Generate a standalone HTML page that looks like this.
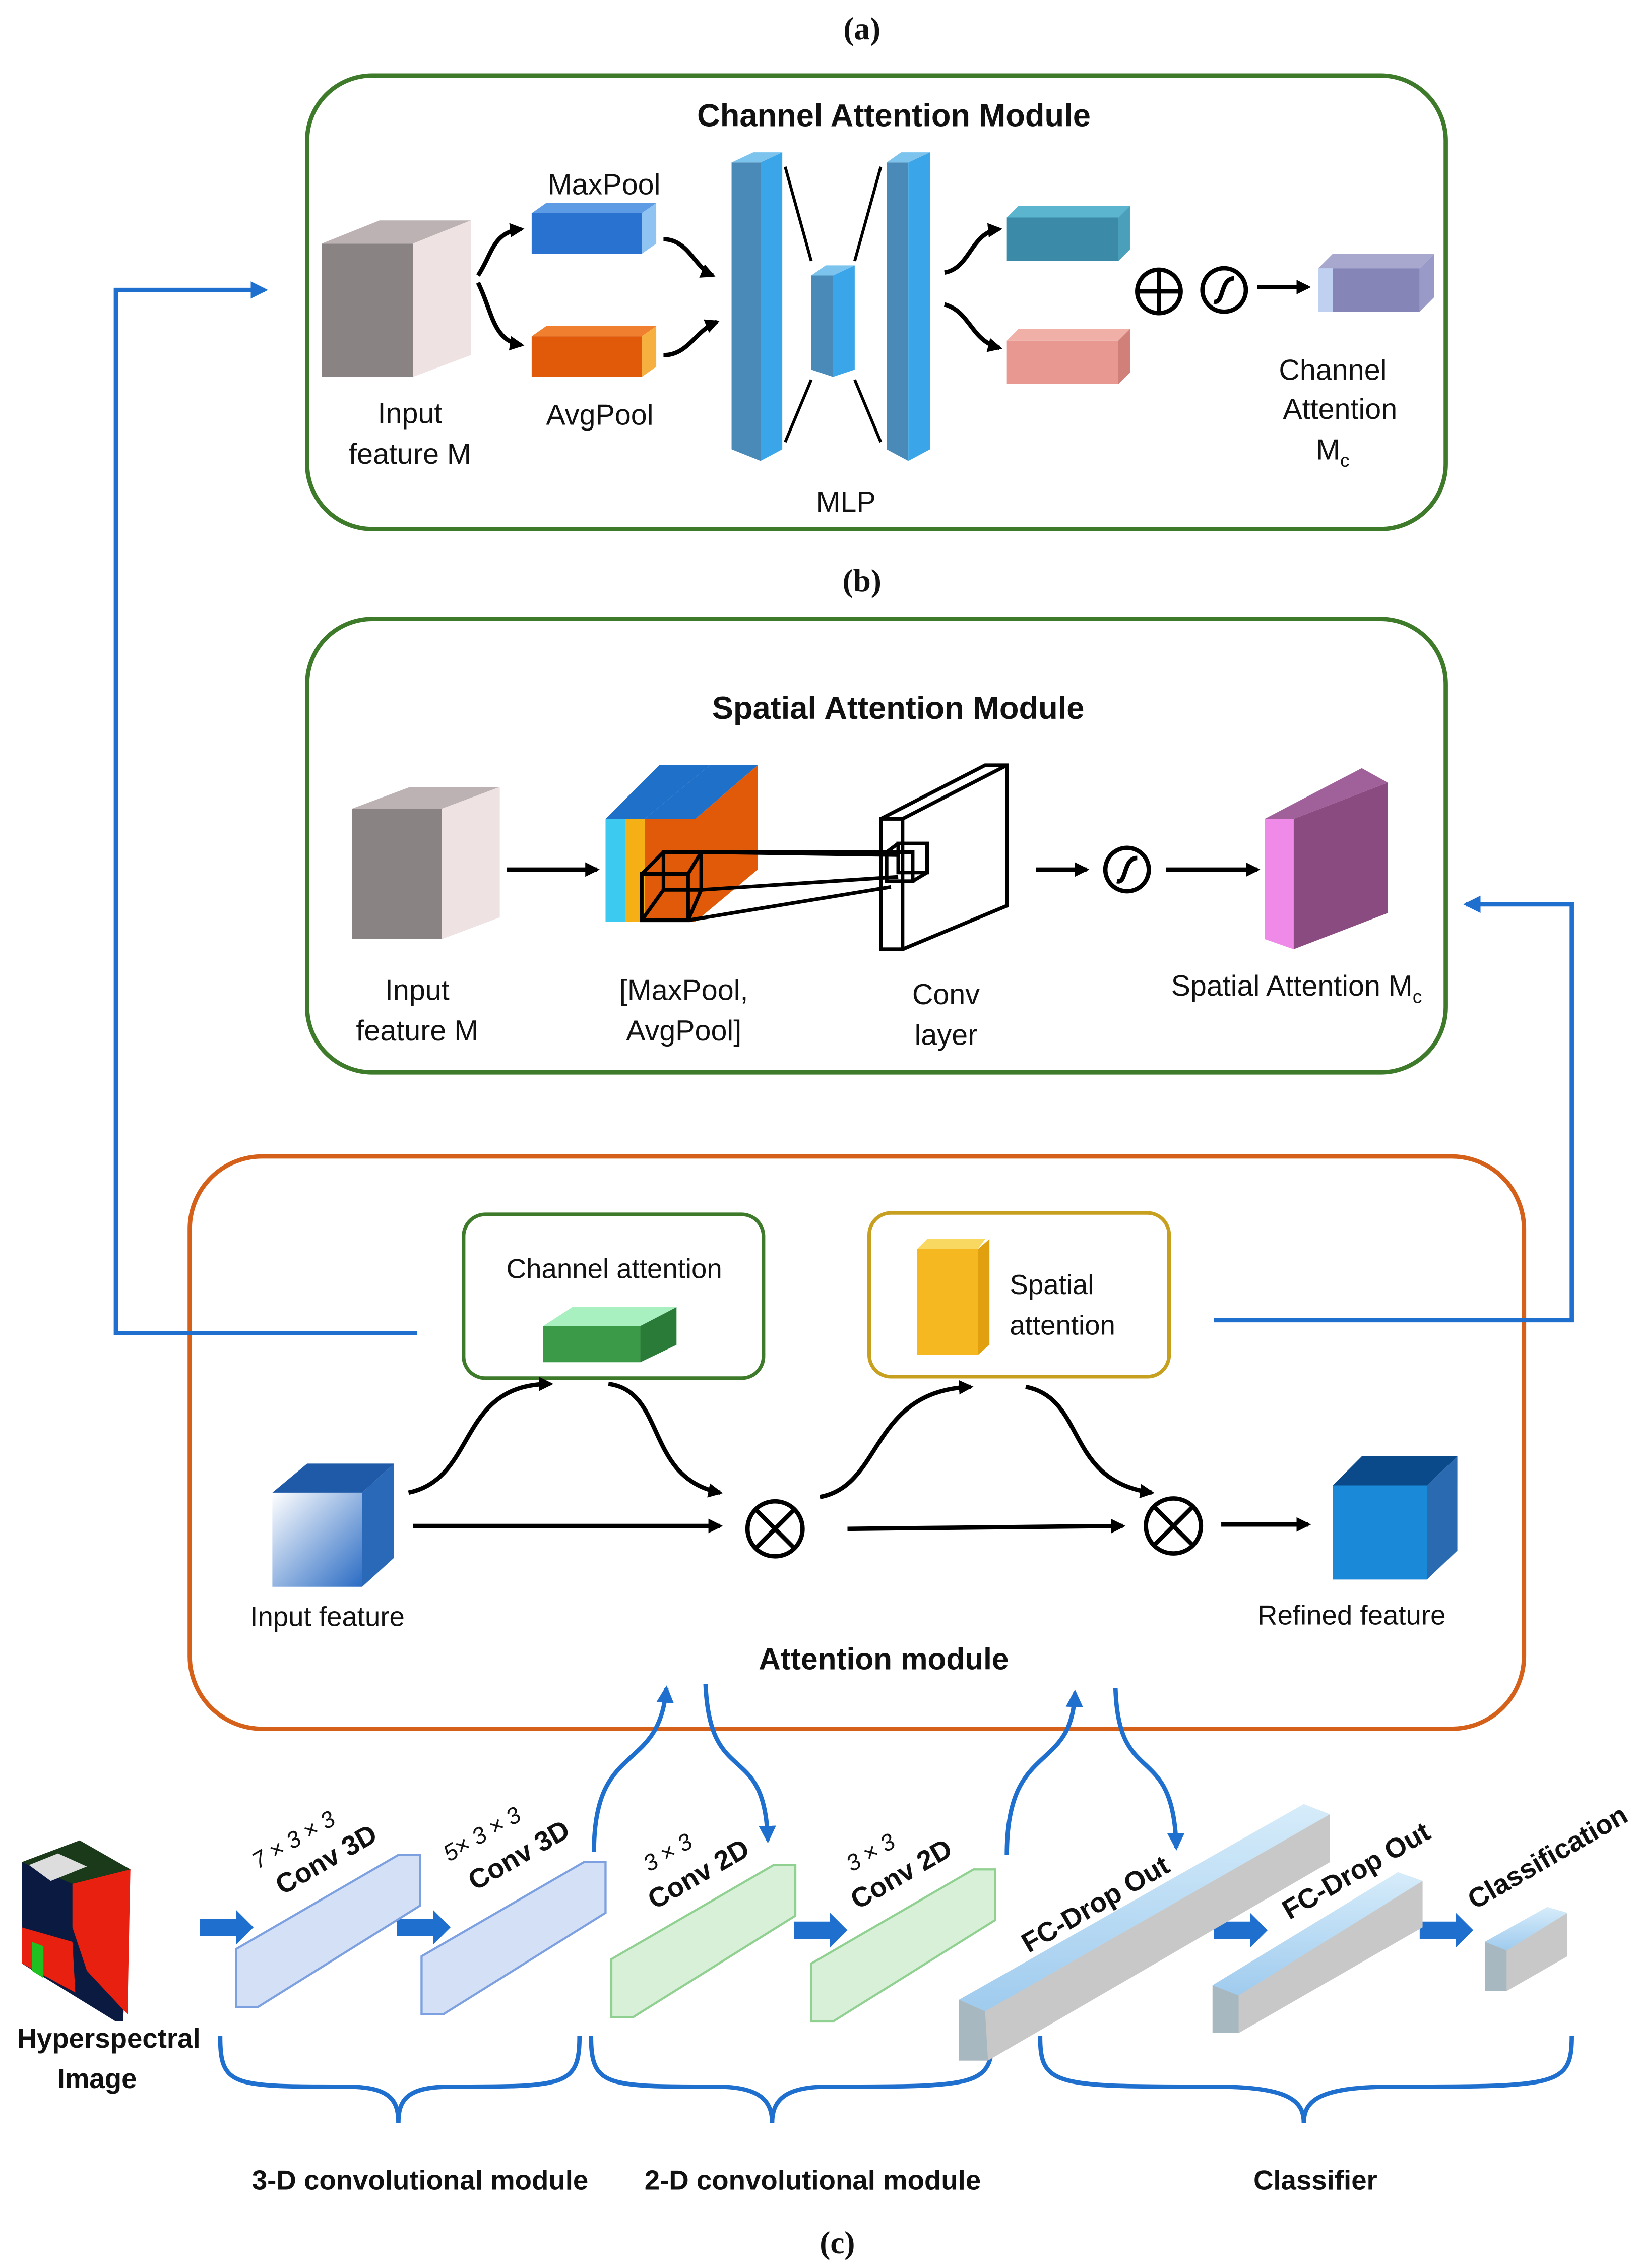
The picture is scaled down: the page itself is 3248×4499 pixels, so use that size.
<!DOCTYPE html>
<html><head><meta charset="utf-8"><style>
html,body{margin:0;padding:0;background:#fff}
svg{display:block}
text{font-family:"Liberation Sans","DejaVu Sans",sans-serif;fill:#111}
.b{font-weight:bold}
.s{font-family:"Liberation Serif",serif;font-weight:bold}
</style></head><body>
<svg width="3248" height="4499" viewBox="0 0 1130 1565" xmlns="http://www.w3.org/2000/svg">
<defs>
<marker id="ak" markerWidth="10" markerHeight="10" refX="8" refY="5" orient="auto" markerUnits="userSpaceOnUse"><path d="M0,0 L10,5 L0,10 Z" fill="#000"/></marker>
<marker id="ab" markerWidth="12" markerHeight="12" refX="10" refY="6" orient="auto" markerUnits="userSpaceOnUse"><path d="M0,0 L12,6 L0,12 Z" fill="#1f6fcf"/></marker>
<linearGradient id="gc" x1="0" y1="0" x2="1" y2="1"><stop offset="0" stop-color="#fff"/><stop offset="1" stop-color="#2b6cc4"/></linearGradient>
<linearGradient id="gbar" x1="0" y1="0" x2="0" y2="1"><stop offset="0" stop-color="#d6ecfa"/><stop offset="1" stop-color="#9fcbee"/></linearGradient>
</defs>

<text x="595" y="27" text-anchor="middle" class="s" font-size="22">(a)</text>
<rect x="212" y="52" width="786" height="313" rx="45" fill="none" stroke="#3d7a2a" stroke-width="3"/>
<text x="617" y="87" text-anchor="middle" class="b" font-size="22">Channel Attention Module</text>
<polygon points="222,168 285,168 285,260 222,260" fill="#8a8384"/>
<polygon points="222,168 262,152 325,152 285,168" fill="#bcb2b3"/>
<polygon points="285,168 325,152 325,245 285,260" fill="#efe2e2"/>
<text x="283" y="292" text-anchor="middle" font-size="20">Input</text>
<text x="283" y="320" text-anchor="middle" font-size="20">feature M</text>
<text x="417" y="134" text-anchor="middle" font-size="20">MaxPool</text>
<polygon points="367,147 443,147 443,175 367,175" fill="#2a72d0"/>
<polygon points="367,147 377,140 453,140 443,147" fill="#5d9be4"/>
<polygon points="443,147 453,140 453,168 443,175" fill="#8fc4f2"/>
<polygon points="367,232 443,232 443,260 367,260" fill="#e05a0a"/>
<polygon points="367,232 377,225 453,225 443,232" fill="#f08030"/>
<polygon points="443,232 453,225 453,253 443,260" fill="#f6b040"/>
<text x="414" y="293" text-anchor="middle" font-size="20">AvgPool</text>
<path d="M330,190 C340,175 340,160 360,158" fill="none" stroke="#000" stroke-width="3" marker-end="url(#ak)"/>
<path d="M330,195 C340,215 340,235 360,238" fill="none" stroke="#000" stroke-width="3" marker-end="url(#ak)"/>
<path d="M458,165 C475,165 480,185 492,190" fill="none" stroke="#000" stroke-width="3" marker-end="url(#ak)"/>
<path d="M458,245 C475,245 480,228 495,222" fill="none" stroke="#000" stroke-width="3" marker-end="url(#ak)"/>
<polygon points="505,112 525,112 525,318 505,310" fill="#4a8ab8"/>
<polygon points="525,112 540,105 540,310 525,318" fill="#3aa5e8"/>
<polygon points="505,112 520,105 540,105 525,112" fill="#7cc4ee"/>
<polygon points="560,190 575,190 575,260 560,255" fill="#4a8ab8"/>
<polygon points="575,190 590,183 590,255 575,260" fill="#3aa5e8"/>
<polygon points="560,190 570,183 590,183 575,190" fill="#7cc4ee"/>
<polygon points="612,112 627,112 627,318 612,310" fill="#4a8ab8"/>
<polygon points="627,112 642,105 642,310 627,318" fill="#3aa5e8"/>
<polygon points="612,112 622,105 642,105 627,112" fill="#7cc4ee"/>
<line x1="542" y1="115" x2="560" y2="180" stroke="#000" stroke-width="2"/>
<line x1="542" y1="305" x2="560" y2="262" stroke="#000" stroke-width="2"/>
<line x1="608" y1="115" x2="590" y2="180" stroke="#000" stroke-width="2"/>
<line x1="608" y1="305" x2="590" y2="262" stroke="#000" stroke-width="2"/>
<text x="584" y="353" text-anchor="middle" font-size="20">MLP</text>
<path d="M652,188 C670,185 670,160 690,158" fill="none" stroke="#000" stroke-width="3" marker-end="url(#ak)"/>
<path d="M652,210 C670,215 670,235 690,240" fill="none" stroke="#000" stroke-width="3" marker-end="url(#ak)"/>
<polygon points="695,150 772,150 772,180 695,180" fill="#3a8aa8"/>
<polygon points="695,150 703,142 780,142 772,150" fill="#5bb5cf"/>
<polygon points="772,150 780,142 780,172 772,180" fill="#4aa0bb"/>
<polygon points="695,235 772,235 772,265 695,265" fill="#e89890"/>
<polygon points="695,235 703,227 780,227 772,235" fill="#f0b0a8"/>
<polygon points="772,235 780,227 780,257 772,265" fill="#d08078"/>
<circle cx="800" cy="201" r="15" fill="none" stroke="#000" stroke-width="3"/>
<line x1="785" y1="201" x2="815" y2="201" stroke="#000" stroke-width="3"/><line x1="800" y1="186" x2="800" y2="216" stroke="#000" stroke-width="3"/>
<circle cx="845" cy="200" r="15" fill="none" stroke="#000" stroke-width="3"/>
<path d="M838,208 C845,210 842,192 852,192" fill="none" stroke="#000" stroke-width="3"/>
<line x1="868" y1="198" x2="903" y2="198" stroke="#000" stroke-width="3" marker-end="url(#ak)"/>
<polygon points="910,185 980,185 980,215 910,215" fill="#8585b8"/>
<polygon points="910,185 920,175 990,175 980,185" fill="#a8a8cf"/>
<polygon points="980,185 990,175 990,205 980,215" fill="#9a9ac8"/>
<polygon points="910,185 920,185 920,215 910,215" fill="#c0d0f0"/>
<text x="920" y="262" text-anchor="middle" font-size="20">Channel</text>
<text x="925" y="289" text-anchor="middle" font-size="20">Attention</text>
<text x="920" y="317" text-anchor="middle" font-size="20">M<tspan font-size="13" dy="5">c</tspan></text>

<text x="595" y="408" text-anchor="middle" class="s" font-size="22">(b)</text>
<rect x="212" y="427" width="786" height="313" rx="45" fill="none" stroke="#3d7a2a" stroke-width="3"/>
<text x="620" y="496" text-anchor="middle" class="b" font-size="22">Spatial Attention Module</text>
<polygon points="243,558 305,558 305,648 243,648" fill="#8a8384"/>
<polygon points="243,558 283,543 345,543 305,558" fill="#bcb2b3"/>
<polygon points="305,558 345,543 345,633 305,648" fill="#efe2e2"/>
<text x="288" y="690" text-anchor="middle" font-size="20">Input</text>
<text x="288" y="718" text-anchor="middle" font-size="20">feature M</text>
<line x1="350" y1="600" x2="412" y2="600" stroke="#000" stroke-width="3" marker-end="url(#ak)"/>
<polygon points="418,565 432,565 432,636 418,636" fill="#3ccaf0"/>
<polygon points="432,565 445,565 445,636 432,636" fill="#f5b015"/>
<polygon points="418,565 455,528 490,528 445,565" fill="#1f70c8"/>
<polygon points="445,565 490,528 523,528 480,565" fill="#1f70c8"/>
<polygon points="445,565 480,565 523,528 523,600 480,636 445,636" fill="#e05a0a"/>
<g fill="none" stroke="#000" stroke-width="2.5">
<rect x="443" y="603" width="32" height="32"/>
<rect x="458" y="588" width="26" height="26"/>
<line x1="443" y1="603" x2="458" y2="588"/><line x1="475" y1="603" x2="484" y2="588"/><line x1="475" y1="635" x2="484" y2="614"/><line x1="443" y1="635" x2="458" y2="614"/>
<line x1="484" y1="588" x2="620" y2="590"/><line x1="484" y1="614" x2="620" y2="605"/><line x1="475" y1="635" x2="615" y2="612"/><line x1="458" y1="588" x2="615" y2="588"/>
<polygon points="608,565 680,528 695,528 695,625 623,655 608,655"/>
<rect x="608" y="565" width="15" height="90"/>
<line x1="623" y1="565" x2="695" y2="528"/>
<line x1="623" y1="655" x2="695" y2="625"/>
<rect x="612" y="588" width="18" height="20"/><rect x="620" y="582" width="20" height="20"/>
<line x1="612" y1="588" x2="620" y2="582"/><line x1="630" y1="608" x2="640" y2="602"/>
</g>
<text x="653" y="693" text-anchor="middle" font-size="20">Conv</text>
<text x="653" y="721" text-anchor="middle" font-size="20">layer</text>
<text x="472" y="690" text-anchor="middle" font-size="20">[MaxPool,</text>
<text x="472" y="718" text-anchor="middle" font-size="20">AvgPool]</text>
<line x1="715" y1="600" x2="750" y2="600" stroke="#000" stroke-width="3" marker-end="url(#ak)"/>
<circle cx="778" cy="600" r="15" fill="none" stroke="#000" stroke-width="3"/>
<path d="M771,608 C778,610 775,592 785,592" fill="none" stroke="#000" stroke-width="3"/>
<line x1="805" y1="600" x2="868" y2="600" stroke="#000" stroke-width="3" marker-end="url(#ak)"/>
<polygon points="873,565 893,565 893,655 873,648" fill="#f08ae8"/>
<polygon points="893,565 958,540 958,630 893,655" fill="#8a4c80"/>
<polygon points="873,565 940,530 958,540 893,565" fill="#a0609a"/>
<text x="895" y="687" text-anchor="middle" font-size="20">Spatial Attention M<tspan font-size="13" dy="5">c</tspan></text>

<rect x="131" y="798" width="921" height="395" rx="50" fill="none" stroke="#d4601a" stroke-width="3"/>
<rect x="320" y="838" width="207" height="113" rx="15" fill="none" stroke="#3d7a2a" stroke-width="2.5"/>
<text x="424" y="882" text-anchor="middle" font-size="19">Channel attention</text>
<polygon points="375,915 442,915 442,940 375,940" fill="#3a9a48"/>
<polygon points="375,915 395,902 467,902 442,915" fill="#a8f0c0"/>
<polygon points="442,915 467,902 467,928 442,940" fill="#2a7a38"/>
<rect x="600" y="837" width="207" height="113" rx="15" fill="none" stroke="#c8a020" stroke-width="2.5"/>
<polygon points="633,862 675,862 675,935 633,935" fill="#f5b820"/>
<polygon points="633,862 640,855 680,855 675,862" fill="#f8d860"/>
<polygon points="675,862 683,855 683,928 675,935" fill="#e0a010"/>
<text x="697" y="893" font-size="19">Spatial</text>
<text x="697" y="921" font-size="19">attention</text>
<polygon points="188,1030 250,1030 250,1095 188,1095" fill="url(#gc)"/>
<polygon points="188,1030 212,1010 272,1010 250,1030" fill="#1f5aa8"/>
<polygon points="250,1030 272,1010 272,1075 250,1095" fill="#2a68b8"/>
<text x="226" y="1122" text-anchor="middle" font-size="19">Input feature</text>
<polygon points="920,1025 985,1025 985,1090 920,1090" fill="#1a8ad8"/>
<polygon points="920,1025 940,1005 1006,1005 985,1025" fill="#0a4a8a"/>
<polygon points="985,1025 1006,1005 1006,1070 985,1090" fill="#2a6ab0"/>
<text x="933" y="1121" text-anchor="middle" font-size="19">Refined feature</text>
<text x="610" y="1152" text-anchor="middle" class="b" font-size="21">Attention module</text>
<g fill="none" stroke="#000" stroke-width="3">
<path d="M282,1030 C330,1020 315,955 380,955" marker-end="url(#ak)"/>
<path d="M420,955 C460,960 445,1020 497,1030" marker-end="url(#ak)"/>
<line x1="285" y1="1053" x2="497" y2="1053" marker-end="url(#ak)"/>
<circle cx="535" cy="1055" r="19"/><line x1="522" y1="1042" x2="548" y2="1068"/><line x1="548" y1="1042" x2="522" y2="1068"/>
<path d="M566,1033 C610,1025 600,960 670,957" marker-end="url(#ak)"/>
<path d="M708,957 C750,965 735,1022 795,1030" marker-end="url(#ak)"/>
<line x1="585" y1="1055" x2="775" y2="1053" marker-end="url(#ak)"/>
<circle cx="810" cy="1053" r="19"/><line x1="797" y1="1040" x2="823" y2="1066"/><line x1="823" y1="1040" x2="797" y2="1066"/>
<line x1="843" y1="1052" x2="903" y2="1052" marker-end="url(#ak)"/>
</g>
<g fill="none" stroke="#1f6fcf" stroke-width="3">
<polyline points="288,920 80,920 80,200 183,200" marker-end="url(#ab)"/>
<polyline points="838,911 1085,911 1085,624 1012,624" marker-end="url(#ab)"/>
<path d="M410,1278 C410,1200 455,1225 460,1165" marker-end="url(#ab)"/>
<path d="M487,1162 C490,1235 528,1200 530,1270" marker-end="url(#ab)"/>
<path d="M695,1280 C695,1200 740,1225 742,1168" marker-end="url(#ab)"/>
<path d="M770,1165 C772,1235 810,1200 812,1275" marker-end="url(#ab)"/>
<path d="M152,1405 C152,1440 160,1440 240,1440 C270,1440 275,1450 275,1465 C275,1450 280,1440 310,1440 C390,1440 400,1440 400,1405"/>
<path d="M408,1405 C408,1440 418,1440 495,1440 C525,1440 533,1450 533,1465 C533,1450 541,1440 571,1440 C675,1440 685,1440 685,1405"/>
<path d="M718,1405 C718,1440 728,1440 840,1440 C890,1440 900,1450 900,1465 C900,1450 910,1440 960,1440 C1075,1440 1085,1440 1085,1405"/>
</g>
<polygon points="15,1285 55,1270 90,1290 85,1395 80,1395 15,1355" fill="#0a1a40"/>
<polygon points="15,1285 55,1270 90,1290 50,1300" fill="#1a3a1a"/>
<polygon points="20,1287 40,1279 60,1288 35,1298" fill="#ddd"/>
<polygon points="50,1300 90,1290 88,1390 60,1360 50,1330" fill="#e82010"/>
<polygon points="15,1330 50,1340 52,1375 15,1355" fill="#e82010"/>
<polygon points="22,1340 30,1343 30,1365 22,1360" fill="#20c020"/>
<text x="75" y="1413" text-anchor="middle" class="b" font-size="19">Hyperspectral</text>
<text x="67" y="1441" text-anchor="middle" class="b" font-size="19">Image</text>
<g fill="#1f6fcf">
<polygon points="138,1324 163,1324 163,1318 175,1330 163,1342 163,1336 138,1336"/>
<polygon points="274,1324 299,1324 299,1318 311,1330 299,1342 299,1336 274,1336"/>
<polygon points="548,1326 573,1326 573,1320 585,1332 573,1344 573,1338 548,1338"/>
<polygon points="838,1326 863,1326 863,1320 875,1332 863,1344 863,1338 838,1338"/>
<polygon points="980,1326 1005,1326 1005,1320 1017,1332 1005,1344 1005,1338 980,1338"/>
</g>
<g stroke-width="1.5">
<polygon points="163,1345 275,1280 290,1280 290,1315 178,1385 163,1385" fill="#c8d8f4" fill-opacity="0.8" stroke="#7da0e0"/>
<polygon points="291,1350 403,1285 418,1285 418,1320 306,1390 291,1390" fill="#c8d8f4" fill-opacity="0.8" stroke="#7da0e0"/>
<polygon points="422,1352 534,1287 549,1287 549,1322 437,1392 422,1392" fill="#cdeccd" fill-opacity="0.8" stroke="#90d090"/>
<polygon points="560,1355 672,1290 687,1290 687,1325 575,1395 560,1395" fill="#cdeccd" fill-opacity="0.8" stroke="#90d090"/>
</g>
<polygon points="662,1380 900,1245 918,1252 918,1285 682,1422 662,1422" fill="#c8c8c8"/>
<polygon points="662,1380 900,1245 918,1252 680,1388" fill="url(#gbar)"/>
<polygon points="662,1380 680,1388 682,1422 662,1422" fill="#a8b8c0"/>
<polygon points="837,1370 965,1292 982,1298 982,1330 855,1403 837,1403" fill="#c8c8c8"/>
<polygon points="837,1370 965,1292 982,1298 855,1377" fill="url(#gbar)"/>
<polygon points="837,1370 855,1377 855,1403 837,1403" fill="#a8b8c0"/>
<polygon points="1025,1340 1068,1316 1082,1320 1082,1350 1040,1374 1025,1374" fill="#c8c8c8"/>
<polygon points="1025,1340 1068,1316 1082,1320 1040,1346" fill="url(#gbar)"/>
<polygon points="1025,1340 1040,1346 1040,1374 1025,1374" fill="#a8b8c0"/>
<g font-size="19">
<text transform="translate(178,1290) rotate(-30)" font-size="16" font-style="italic">7 × 3 × 3</text>
<text transform="translate(195,1308) rotate(-30)" font-weight="bold">Conv 3D</text>
<text transform="translate(310,1285) rotate(-30)" font-size="16" font-style="italic">5× 3 × 3</text>
<text transform="translate(328,1305) rotate(-30)" font-weight="bold">Conv 3D</text>
<text transform="translate(448,1292) rotate(-30)" font-size="16" font-style="italic">3 × 3</text>
<text transform="translate(452,1318) rotate(-30)" font-weight="bold">Conv 2D</text>
<text transform="translate(588,1292) rotate(-30)" font-size="16" font-style="italic">3 × 3</text>
<text transform="translate(592,1318) rotate(-30)" font-weight="bold">Conv 2D</text>
<text transform="translate(710,1348) rotate(-30)" font-weight="bold">FC-Drop Out</text>
<text transform="translate(890,1325) rotate(-30)" font-weight="bold">FC-Drop Out</text>
<text transform="translate(1018,1318) rotate(-30)" font-weight="bold">Classification</text>
</g>
<text x="290" y="1511" text-anchor="middle" class="b" font-size="19">3-D convolutional module</text>
<text x="561" y="1511" text-anchor="middle" class="b" font-size="19">2-D convolutional module</text>
<text x="908" y="1511" text-anchor="middle" class="b" font-size="19">Classifier</text>
<text x="578" y="1555" text-anchor="middle" class="s" font-size="22">(c)</text>
</svg>
</body></html>
